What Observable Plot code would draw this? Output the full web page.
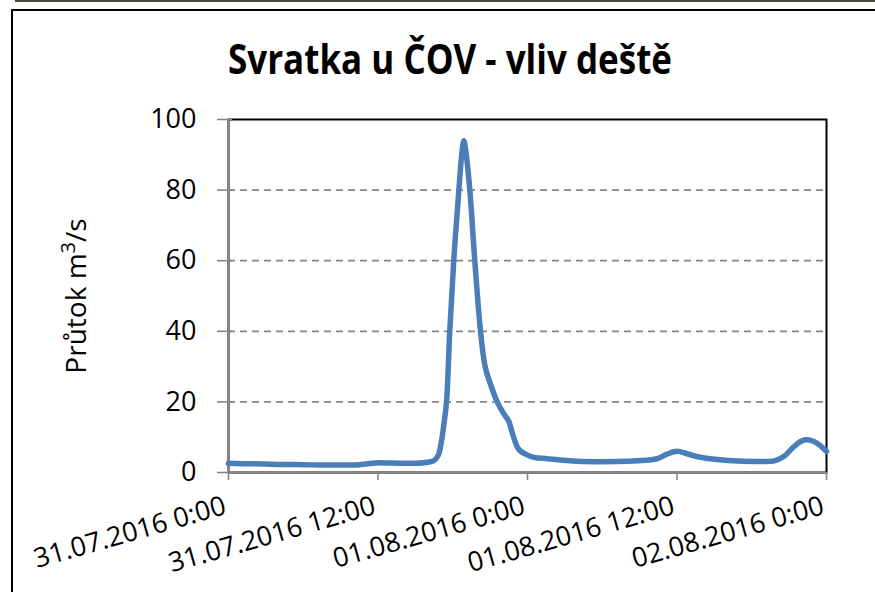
<!DOCTYPE html>
<html>
<head>
<meta charset="utf-8">
<script src="https://cdn.jsdelivr.net/npm/d3@7"></script>
<script src="https://cdn.jsdelivr.net/npm/@observablehq/plot@0.6"></script>
<style>
  html, body { margin: 0; padding: 0; background: #fff; }
  #wrap { position: relative; width: 875px; height: 592px; overflow: hidden; background: #fff; }
  #strip { position: absolute; left: 15px; top: 0; width: 860px; height: 2px; background: #4d4b40; }
  #borderTop { position: absolute; left: 11px; top: 9px; width: 864px; height: 2px; background: #000; }
  #borderLeft { position: absolute; left: 11px; top: 9px; width: 2px; height: 583px; background: #000; }
  #chart { position: absolute; left: 0; top: 0; }
</style>
</head>
<body>
<div id="wrap">
  <div id="chart"></div>
  <div id="strip"></div>
  <div id="borderTop"></div>
  <div id="borderLeft"></div>
</div>
<script>
// ---- data ----
const titleText = "Svratka u ČOV - vliv deště";
const yLabelMain = "Průtok m";
const yLabelSup = "3";
const yLabelTail = "/s";
const startTime = Date.UTC(2016, 6, 31, 0, 0); // 31.07.2016 0:00
// hours since 31.07.2016 0:00
const hours = [0, 2, 4, 6, 8, 10.5, 11.8, 13, 15, 16.0, 16.5, 16.85, 17.1, 17.3, 17.5, 17.76, 18.08, 18.49, 18.75, 18.89, 19.05, 19.37, 19.77, 20.23, 20.6, 21.03, 21.57, 22.1, 22.5, 22.8, 23.3, 23.84, 24.5, 25.6, 28, 31.2, 32.8, 34.4, 35.2, 36.0, 36.8, 37.9, 40.1, 42.7, 43.8, 44.6, 45.4, 46.2, 47.0, 48.0];
// flow m3/s
const flow = [2.6, 2.45, 2.3, 2.2, 2.1, 2.2, 2.7, 2.7, 2.6, 2.9, 3.4, 5.0, 9, 14, 20, 40, 60, 80, 91, 94, 91, 80, 60, 40, 30, 25, 20, 16.6, 14.5, 11, 6.5, 5.2, 4.3, 3.9, 3.2, 3.1, 3.3, 3.9, 5.2, 6.0, 5.3, 4.3, 3.4, 3.1, 3.3, 4.6, 7.4, 9.2, 8.8, 6.0];
const tickHours = [0, 12, 24, 36, 48];
const tickLabels = ["31.07.2016 0:00", "31.07.2016 12:00", "01.08.2016 0:00", "01.08.2016 12:00", "02.08.2016 0:00"];
const yTicks = [0, 20, 40, 60, 80, 100];
const yGrid = [20, 40, 60, 80];

const toDate = h => new Date(startTime + h * 3600e3);
const data = hours.map((h, i) => ({time: toDate(h), flow: flow[i]}));
const tickData = tickHours.map((h, i) => ({time: toDate(h), label: tickLabels[i]}));
const xDomain = [toDate(0), toDate(48)];

const gray = "#868686";

const svg = Plot.plot({
  width: 875,
  height: 592,
  marginLeft: 228,
  marginRight: 49,
  marginTop: 119,
  marginBottom: 120,
  style: {fontFamily: "'Open Sans', sans-serif", fontSize: "27px", color: "#000", background: "transparent"},
  x: {type: "utc", domain: xDomain},
  y: {domain: [0, 100]},
  marks: [
    Plot.gridY(yGrid, {stroke: gray, strokeOpacity: 1, strokeWidth: 1.7, strokeDasharray: "7,5"}),
    Plot.frame({stroke: "#000", strokeWidth: 2}),
    Plot.ruleY([0], {stroke: gray, strokeWidth: 2}),
    Plot.ruleX([xDomain[0]], {stroke: gray, strokeWidth: 2}),
    Plot.axisY({ticks: yTicks, tickSize: 15, dx: 4, tickPadding: 21, stroke: gray, strokeWidth: 1.6, label: null, fill: "#000", fontSize: 27}),
    Plot.axisX({ticks: tickData.map(d => d.time), tickSize: 8, tickFormat: () => "", stroke: gray, strokeWidth: 1.6, label: null}),
    Plot.text(tickData, {x: "time", frameAnchor: "bottom", text: "label", rotate: -16, textAnchor: "end", dx: -1, dy: 41, fill: "#000", fontSize: 27}),
    Plot.line(data, {x: "time", y: "flow", stroke: "#4a7ebb", strokeWidth: 5.5, curve: "catmull-rom", strokeLinejoin: "round", strokeLinecap: "round"})
  ]
});

const s = d3.select(svg);
s.append("text")
  .attr("x", 450).attr("y", 74)
  .attr("text-anchor", "middle")
  .attr("font-family", "'Liberation Sans Narrow', 'Open Sans', sans-serif")
  .attr("font-weight", "bold")
  .attr("font-size", 42)
  .attr("textLength", 444)
  .attr("lengthAdjust", "spacingAndGlyphs")
  .attr("fill", "#000")
  .text(titleText);

const yl = s.append("text")
  .attr("transform", "translate(86,296) rotate(-90)")
  .attr("text-anchor", "middle")
  .attr("font-family", "'Open Sans', sans-serif")
  .attr("font-size", 28)
  .attr("fill", "#000");
yl.append("tspan").text(yLabelMain);
yl.append("tspan").attr("dy", -11).attr("font-size", 20).text(yLabelSup);
yl.append("tspan").attr("dy", 11).text(yLabelTail);

document.getElementById("chart").appendChild(svg);
</script>
</body>
</html>
